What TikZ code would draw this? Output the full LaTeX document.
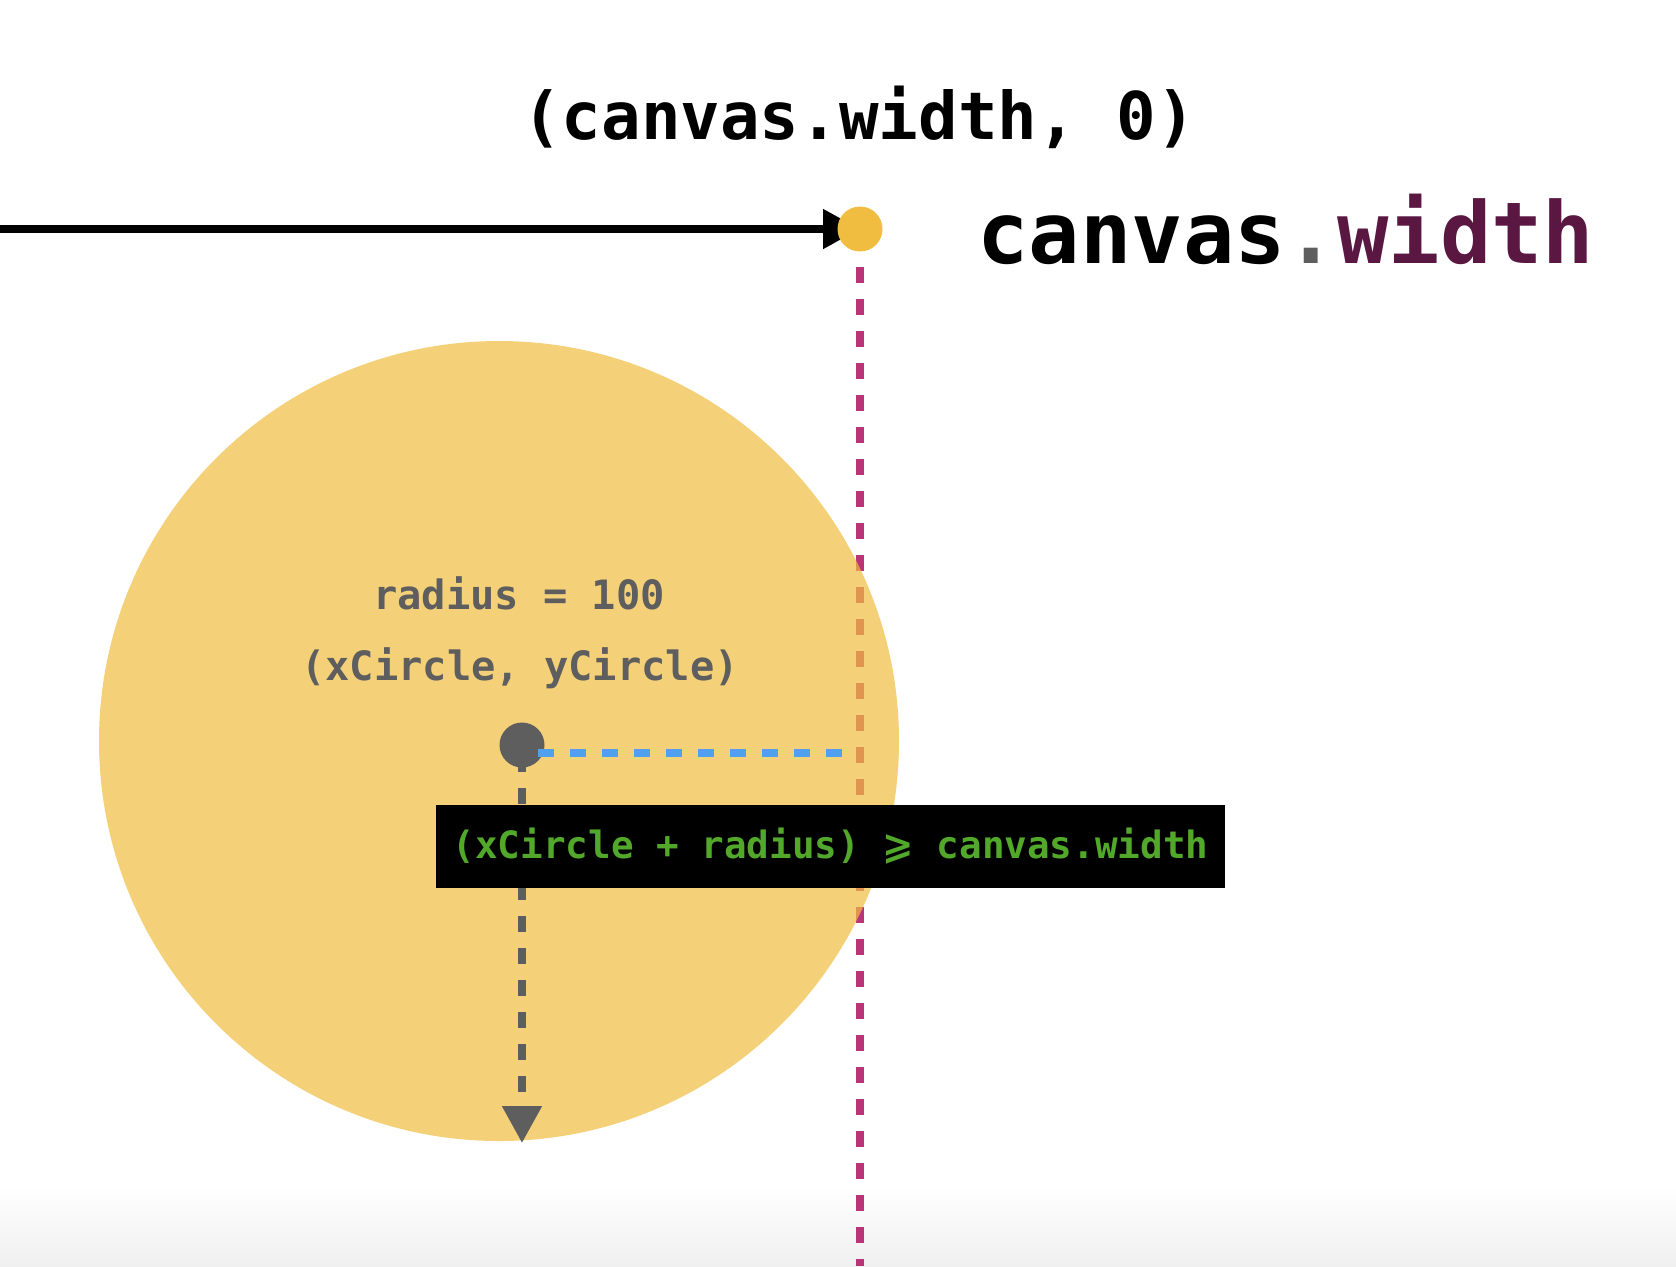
\documentclass[tikz,border=0pt]{standalone}
\usepackage{fontspec}
\setmonofont{DejaVu Sans Mono}
\newfontfamily\symbolfont{DejaVu Sans}
\usetikzlibrary{arrows.meta}
\definecolor{ballYellow}{HTML}{F0BD40}
\definecolor{limitMagenta}{HTML}{BA3578}
\definecolor{inkGray}{HTML}{5E5E5E}
\definecolor{rayBlue}{HTML}{4FA0EE}
\definecolor{condGreen}{HTML}{52A82A}
\definecolor{widthPurple}{HTML}{5A1742}

\begin{document}
\begin{tikzpicture}[x=.5pt, y=-.5pt,
  dot/.style={circle, inner sep=0pt, minimum size=22.5pt},
  dashes/.style={line width=4pt, dash pattern=on 8pt off 8pt},
  coordtext/.style={font=\ttfamily\bfseries\fontsize{20.2}{24}\selectfont, text=inkGray, inner sep=0pt, anchor=base},
  tip/.style={-{Triangle[length=18.5pt, width=19pt]}}]
\useasboundingbox (0,0) rectangle (1676,1266);
\shade[top color=white, bottom color=black!6] (0,1185) rectangle (1676,1266);
\coordinate (limitTop) at (860,267);
\coordinate (limitBottom) at (860,1266);
\draw[dashes, limitMagenta] (limitTop) -- (limitBottom);
\node[circle, minimum size=400pt, inner sep=0pt, fill=ballYellow, fill opacity=.7] (ball) at (499,741) {};
\coordinate (lineStart) at (0,229);
\coordinate (widthPt) at (860,229);
\draw[line width=4pt, tip] (lineStart) -- (widthPt);
\node[dot, fill=ballYellow] (widthDot) at (widthPt) {};
\node[font=\ttfamily\bfseries\fontsize{32.9}{38}\selectfont, inner sep=0pt, anchor=base] (title) at (859,139) {(canvas.width, 0)};
\node[font=\ttfamily\bfseries\fontsize{42.7}{50}\selectfont, inner sep=0pt, anchor=base west] (widthName) at (977,263) {canvas\textcolor{inkGray}{.}\textcolor{widthPurple}{width}};
\node[dot, fill=inkGray] (center) at (522,745) {};
\coordinate (rayStart) at (538,753);
\coordinate (rayEnd) at (842,753);
\draw[dashes, rayBlue] (rayStart) -- (rayEnd);
\coordinate (dropStart) at (522,756);
\coordinate (dropEnd) at (522,1143);
\draw[dashes, inkGray, tip] (dropStart) -- (dropEnd);
\node[fill=black, minimum width=394.5pt, minimum height=41.5pt, inner sep=0pt, text=condGreen, font=\ttfamily\bfseries\fontsize{18.8}{23}\selectfont] (condition) at (830.5,846.5) {(xCircle + radius) {\symbolfont ⩾} canvas.width};
\node[coordtext] (radiusText) at (519,609) {radius = 100};
\node[coordtext] (centerText) at (520,680) {(xCircle, yCircle)};
\end{tikzpicture}
\end{document}
